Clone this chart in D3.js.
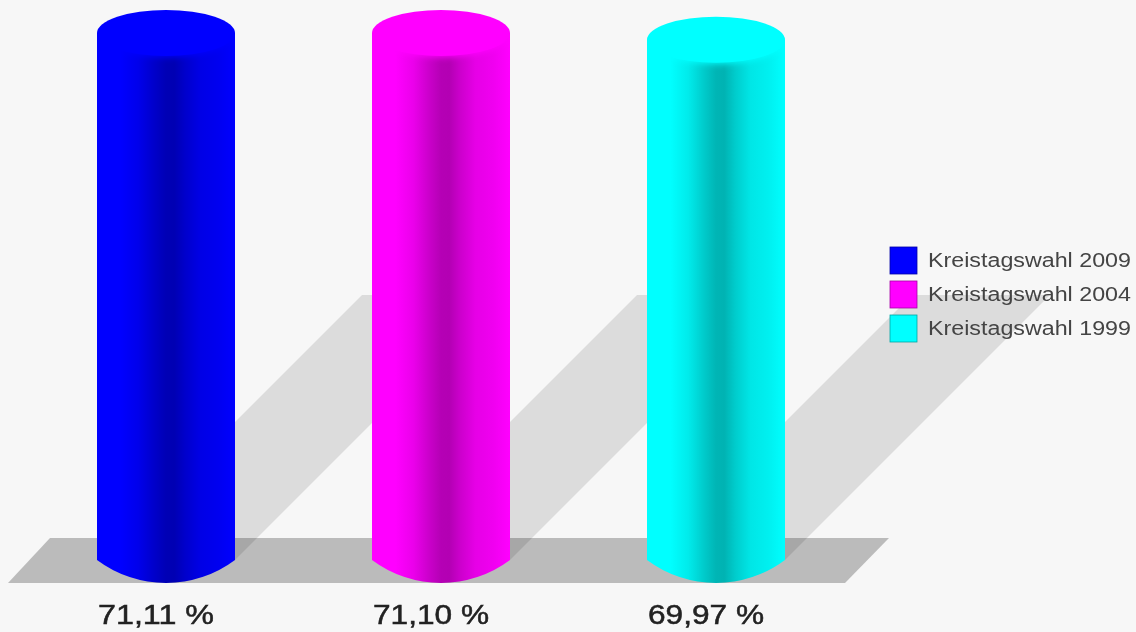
<!DOCTYPE html>
<html><head><meta charset="utf-8">
<script src="https://cdn.jsdelivr.net/npm/d3@7/dist/d3.min.js"></script>
<style>
html,body{margin:0;padding:0;background:#f7f7f7;overflow:hidden}
svg{display:block;filter:blur(0.6px)}
text{font-family:"Liberation Sans",Arial,sans-serif}
</style></head><body>
<svg id="c" width="1136" height="632"></svg>
<script>
const categories = ["Kreistagswahl 2009","Kreistagswahl 2004","Kreistagswahl 1999"];
const values = [71.11,71.10,69.97];
const valueLabels = ["71,11 %","71,10 %","69,97 %"];
const colors = ["#0000ff","#ff00ff","#00ffff"];
const shade = [[0,1],[0.17,1],[0.3,0.92],[0.42,0.79],[0.5,0.71],[0.56,0.7],[0.64,0.8],[0.75,0.9],[0.88,0.94],[1,1]];

const svg = d3.select("#c");
const W=1136,H=632;
const base=560, ry=23, rx=69;
const x = d3.scalePoint().domain(categories).range([166,716]);
const y = d3.scaleLinear().domain([-17,71.11]).range([base,33]);
const bg="#f7f7f7";
svg.append("rect").attr("width",W).attr("height",H).attr("fill",bg);

const defs=svg.append("defs");
categories.forEach((c,i)=>{
  const g=defs.append("linearGradient").attr("id","g"+i).attr("x1",0).attr("x2",1).attr("y1",0).attr("y2",0);
  shade.forEach(([o,f])=>{
    const col=d3.rgb(colors[i]);
    g.append("stop").attr("offset",o).attr("stop-color",d3.rgb(col.r*f,col.g*f,col.b*f).formatHex());
  });
  defs.append("clipPath").attr("id","cp"+i).append("rect")
    .attr("x",x(c)-rx).attr("y",y(values[i])).attr("width",2*rx).attr("height",H);
});
defs.append("filter").attr("id","soft").attr("x","-20%").attr("y","-40%").attr("width","140%").attr("height","180%")
  .append("feGaussianBlur").attr("stdDeviation",3);

// floor
svg.append("path").attr("d",`M8,${base+23}L50,${base-22}H889L845,${base+23}Z`).attr("fill","#bbbbbb");

// shadows
const shDx=265, shTop=295;
svg.selectAll("path.sh").data(categories).join("path").attr("class","sh")
  .attr("d",c=>{const cx=x(c);return `M${cx-rx},${base}H${cx+rx}L${cx+rx+shDx},${shTop}H${cx-rx+shDx}Z`;})
  .attr("fill","#000").attr("fill-opacity",0.105);

// cylinders
const R=(rx*rx+ry*ry)/(2*ry);
const cyl=svg.selectAll("g.cyl").data(categories).join("g").attr("class","cyl");
cyl.append("path")
  .attr("d",(c,i)=>{const cx=x(c),t=y(values[i]);
    return `M${cx-rx},${t}V${base}A${R},${R} 0 0 0 ${cx+rx},${base}V${t}Z`;})
  .attr("fill",(c,i)=>`url(#g${i})`);
cyl.append("g").attr("clip-path",(c,i)=>`url(#cp${i})`).append("ellipse")
  .attr("cx",c=>x(c)).attr("cy",(c,i)=>y(values[i])+1).attr("rx",rx).attr("ry",ry)
  .attr("fill",(c,i)=>colors[i]).attr("filter","url(#soft)");
cyl.append("ellipse")
  .attr("cx",c=>x(c)).attr("cy",(c,i)=>y(values[i])).attr("rx",rx).attr("ry",ry)
  .attr("fill",(c,i)=>colors[i]);

// value labels
svg.selectAll("text.v").data(categories).join("text").attr("class","v")
  .attr("x",c=>x(c)-rx+1).attr("y",624)
  .attr("font-size",27).attr("fill","#222")
  .attr("stroke","#222").attr("stroke-width",0.5)
  .attr("textLength",116).attr("lengthAdjust","spacingAndGlyphs")
  .text((c,i)=>valueLabels[i]);

// legend
const ly=d3.scalePoint().domain(categories).range([247,315]);
const lg=svg.selectAll("g.lg").data(categories).join("g").attr("class","lg");
lg.append("rect").attr("x",890).attr("y",c=>ly(c)).attr("width",27).attr("height",27)
  .attr("fill",(c,i)=>colors[i]).attr("stroke",(c,i)=>d3.rgb(colors[i]).darker(1.2).formatHex()).attr("stroke-width",0.8);
lg.append("text").attr("x",928).attr("y",c=>ly(c)+20)
  .attr("font-size",20).attr("fill","#444")
  .attr("textLength",203).attr("lengthAdjust","spacingAndGlyphs")
  .text(c=>c);
</script>
</body></html>
